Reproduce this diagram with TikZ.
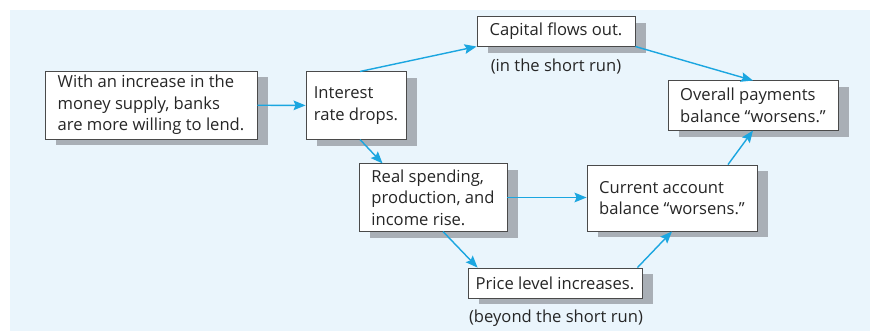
\documentclass[tikz,border=0pt]{standalone}
\usepackage{fontspec}
\setmainfont{Open Sans}
\usetikzlibrary{positioning, arrows.meta, shadows, calc}
\definecolor{flowblue}{HTML}{1BA6E0}
\definecolor{panelblue}{HTML}{EAF5FC}
\definecolor{boxline}{HTML}{4A4A4A}
\definecolor{shadowgray}{HTML}{A9AFB6}
\definecolor{textgray}{HTML}{262626}

\begin{document}
\begin{tikzpicture}[
  x=0.025cm, y=-0.025cm,
  font=\fontsize{11.8}{15.3}\selectfont,
  text=textgray,
  box/.style={
    draw=boxline, line width=0.6pt, fill=white,
    align=left, minimum width=#1, inner sep=0pt,
    drop shadow={shadow xshift=0.28cm, shadow yshift=-0.16cm,
                 fill=shadowgray, opacity=1}
  },
  note/.style={inner sep=0pt},
  flow/.style={-{Stealth[length=0.3cm, width=0.24cm, inset=0.05cm]},
               line width=1pt, draw=flowblue},
]

% Panel and page size
\useasboundingbox (0,0) rectangle (870,331);
\fill[panelblue] (10,10) rectangle (870,331);

% Boxes
\node[box=5.3cm,  minimum height=1.7cm]  (lend)    at (151,105)   {With an increase in the\\money supply, banks\\are more willing to lend.};
\node[box=2.5cm,  minimum height=1.68cm] (rate)    at (356,105.5) {Interest\\rate drops.};
\node[box=3.95cm, minimum height=0.73cm] (capital) at (556,31.5)  {Capital flows out.};
\node[box=4.25cm, minimum height=1.23cm] (overall) at (753,105.5) {Overall payments\\balance “worsens.”};
\node[box=3.7cm,  minimum height=1.68cm] (real)    at (433,197.5) {Real spending,\\production, and\\income rise.};
\node[box=4.25cm, minimum height=1.65cm] (current) at (672,198)   {Current account\\balance “worsens.”};
\node[box=4.35cm, minimum height=0.75cm] (price)   at (555,283)   {Price level increases.};

% Time notes under the two middle boxes
\node[note] (shortrun) at (556,67)  {(in the short run)};
\node[note] (longrun)  at (556,318) {(beyond the short run)};

% Connectors
\draw[flow] (lend) -- (rate);
\draw[flow] ($(rate.north)+(4,0)$) -- (capital.south west);
\draw[flow] (capital.south east) -- (overall.north);
\draw[flow] ($(rate.south)+(4,0)$) -- ($(real.north west)+(24,0)$);
\draw[flow] (real.east) -- (real.east -| current.west);
\draw[flow] ($(real.south)+(10,0)$) -- ($(price.north west)+(10,0)$);
\draw[flow] ($(price.north east)+(-5,0)$) -- (current.south);
\draw[flow] ($(current.north)+(56,0)$) -- (overall.south);
\end{tikzpicture}
\end{document}
